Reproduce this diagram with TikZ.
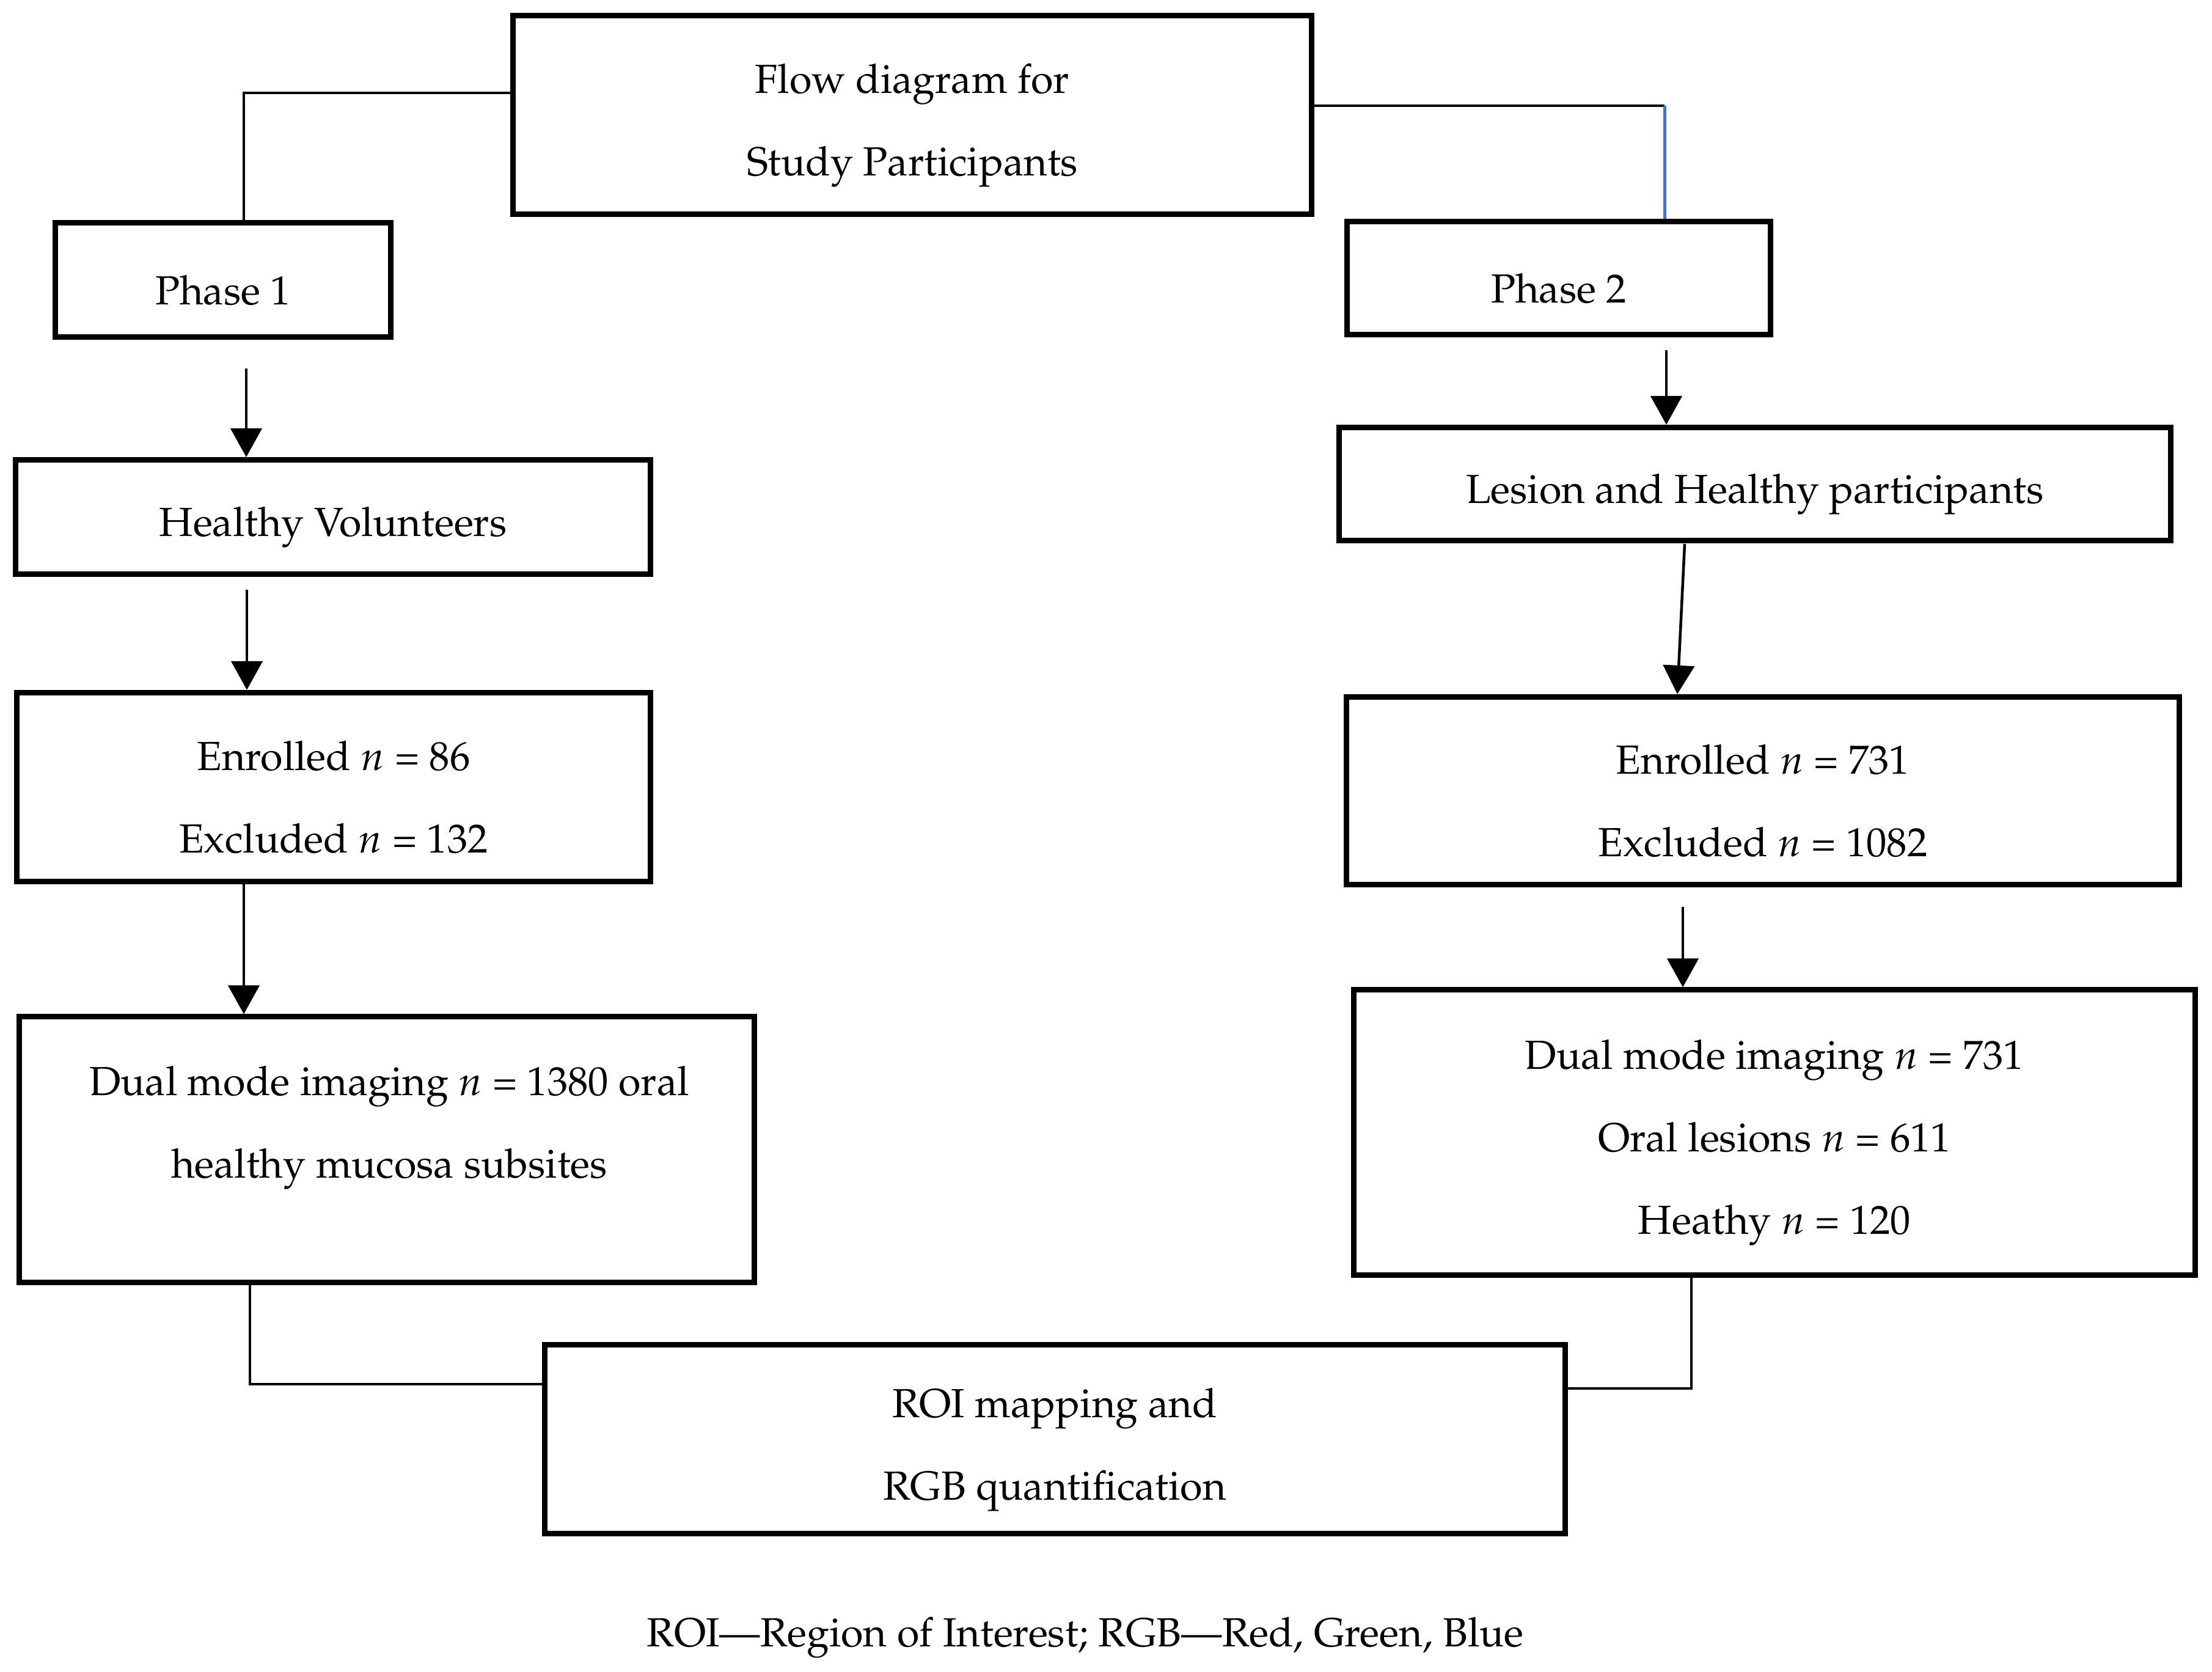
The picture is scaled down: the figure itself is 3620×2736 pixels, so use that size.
\documentclass[tikz,border=0pt]{standalone}
\usepackage[T1]{fontenc}
\usepackage{mathpazo}
\usepackage{xcolor}
\usetikzlibrary{arrows.meta,positioning,calc}
\definecolor{linkblue}{RGB}{68,114,196}
\newcommand{\lift}{\rule{0pt}{0.82cm}}
\tikzset{box/.style={draw, line width=0.09cm, align=center, inner sep=0pt},
  link/.style={line width=0.045cm},
  arr/.style={line width=0.045cm, -{Triangle[width=0.51cm,length=0.47cm]}}}

\begin{document}
\begin{tikzpicture}[x=0.01cm,y=-0.01cm,font=\fontsize{18.9}{38.4}\selectfont]
\useasboundingbox (0,0) rectangle (3620,2736);
\coordinate (A1) at (399,152);
\coordinate (A2) at (2724,173);
\coordinate (A3) at (403,603);
\coordinate (A4) at (2727,573);
\coordinate (A5) at (404,965);
\coordinate (A6) at (2757,890);
\coordinate (A61) at (2745,1000);
\coordinate (A7) at (399,1447);
\coordinate (A8) at (2754,1484);
\coordinate (A9) at (409,2265);
\coordinate (A10) at (2768,2272);
\node[box,minimum width=13.06cm,minimum height=3.25cm] (title) at (1493,188) {\lift Flow diagram for\\Study Participants};
\node[box,minimum width=5.49cm,minimum height=1.87cm] (phase1) at (365,458) {\lift Phase 1};
\node[box,minimum width=6.93cm,minimum height=1.84cm] (phase2) at (2551,455) {\lift Phase 2};
\node[box,minimum width=10.39cm,minimum height=1.87cm] (healthy) at (545,846) {\lift Healthy Volunteers};
\node[box,minimum width=13.61cm,minimum height=1.85cm] (lesion) at (2872,792) {\lift Lesion and Healthy participants};
\node[box,minimum width=10.37cm,minimum height=3.09cm] (enrolL) at (546,1288) {\lift Enrolled $n$ = 86\\Excluded $n$ = 132};
\node[box,minimum width=13.62cm,minimum height=3.07cm] (enrolR) at (2885,1294) {\lift Enrolled $n$ = 731\\Excluded $n$ = 1082};
\node[box,minimum width=12.02cm,minimum height=4.34cm] (dualL) at (633,1881) {};
\node[align=center] (dualLtxt) at (637,1845) {Dual mode imaging $n$ = 1380 oral\\healthy mucosa subsites};
\node[box,minimum width=13.76cm,minimum height=4.66cm] (dualR) at (2904,1853) {\lift Dual mode imaging $n$ = 731\\Oral lesions $n$ = 611\\Heathy $n$ = 120};
\node[box,minimum width=16.69cm,minimum height=3.09cm] (roi) at (1726,2355) {\lift ROI mapping and\\RGB quantification};
\node (note) at (1776,2680) {ROI---Region of Interest; RGB---Red, Green, Blue};
\draw[link] (title.west |- A1) -- (A1) -- (A1 |- phase1.north);
\draw[link] (title.east |- A2) -- (A2);
\draw[draw=linkblue,line width=0.05cm] (A2) -- (A2 |- phase2.north);
\draw[arr] (A3) -- (A3 |- healthy.north);
\draw[arr] (A4) -- (A4 |- lesion.north);
\draw[arr] (A5) -- (A5 |- enrolL.north);
\draw[arr] (A6) -- (A61 |- enrolR.north);
\draw[arr] (A7) -- (A7 |- dualL.north);
\draw[arr] (A8) -- (A8 |- dualR.north);
\draw[link] (A9 |- dualL.south) -- (A9) -- (A9 -| roi.west);
\draw[link] (A10 |- dualR.south) -- (A10) -- (A10 -| roi.east);
\end{tikzpicture}
\end{document}
